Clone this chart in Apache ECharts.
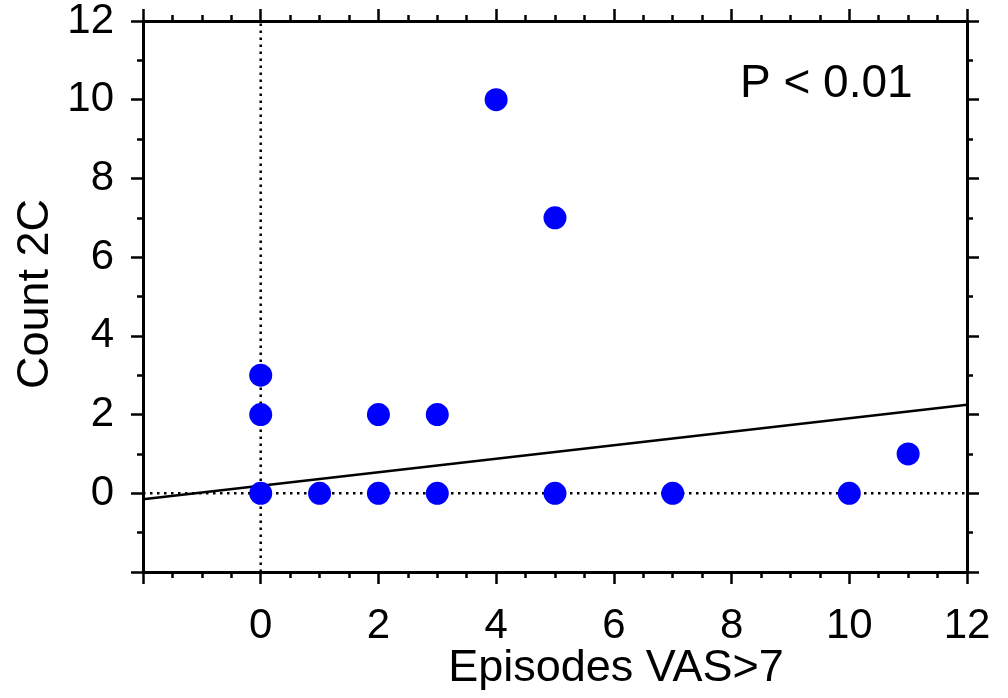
<!DOCTYPE html>
<html>
<head>
<meta charset="utf-8">
<script src="https://cdn.jsdelivr.net/npm/echarts@6/dist/echarts.min.js"></script>
<style>
html,body{margin:0;padding:0;background:#fff;}
#chart{width:1008px;height:698px;}
</style>
</head>
<body>
<div id="chart"></div>
<script>
// Data
const episodes = [0, 0, 0, 1, 2, 2, 3, 3, 4, 5, 5, 7, 10, 11];
const count2C  = [3, 2, 0, 0, 2, 0, 2, 0, 10, 7, 0, 0, 0, 1];
const fitX = [-2, 12];
const fitY = [-0.15, 2.25];
const xTickLabels = ['0', '2', '4', '6', '8', '10', '12'];
const yTickLabels = ['0', '2', '4', '6', '8', '10', '12'];
const xTitle = 'Episodes VAS>7';
const yTitle = 'Count 2C';
const pText = 'P < 0.01';

const FONT = '"Liberation Sans", Arial, sans-serif';
const chart = echarts.init(document.getElementById('chart'));

function axisCommon(showLabels, labels, minorSplit, margin) {
  return {
    type: 'value', min: -2, max: 12, interval: 2,
    axisLine: { show: true, onZero: false, lineStyle: { color: '#000', width: 3 } },
    axisTick: { show: true, inside: false, length: 12, lineStyle: { color: '#000', width: 2.5 } },
    minorTick: { show: true, splitNumber: minorSplit, length: 6, lineStyle: { color: '#000', width: 2.5 } },
    splitLine: { show: false },
    axisLabel: {
      show: showLabels, color: '#000', fontSize: 42, fontFamily: FONT, margin: margin,
      formatter: v => labels.includes(String(v)) ? String(v) : ''
    }
  };
}

const xs = episodes.map((x, i) => [x, count2C[i]]);

chart.setOption({
  animation: false,
  backgroundColor: '#fff',
  grid: { left: 143, right: 41, top: 18, bottom: 126 },
  xAxis: [
    Object.assign(axisCommon(true, xTickLabels, 4, 33), { position: 'bottom' }),
    Object.assign(axisCommon(false, xTickLabels, 4, 8), { position: 'top' })
  ],
  yAxis: [
    Object.assign(axisCommon(true, yTickLabels, 2, 29), { position: 'left' }),
    Object.assign(axisCommon(false, yTickLabels, 2, 8), { position: 'right' })
  ],
  series: [
    {
      type: 'line', data: [[0, -2], [0, 12]], symbol: 'none', silent: true,
      lineStyle: { color: '#000', width: 2.5, type: [2.5, 4.5] }, z: 1
    },
    {
      type: 'line', data: [[-2, 0], [12, 0]], symbol: 'none', silent: true,
      lineStyle: { color: '#000', width: 2.5, type: [2.5, 4.5] }, z: 1
    },
    {
      type: 'line', data: fitX.map((x, i) => [x, fitY[i]]), symbol: 'none', silent: true,
      lineStyle: { color: '#000', width: 2.5 }, z: 2
    },
    {
      type: 'scatter', data: xs, symbol: 'circle', symbolSize: 23,
      itemStyle: { color: '#0000ff', opacity: 1 }, z: 3
    }
  ],
  graphic: [
    { type: 'text', x: 616, y: 669, style: { text: xTitle, fill: '#000', font: '45px ' + FONT, align: 'center', verticalAlign: 'middle' } },
    { type: 'text', x: 36, y: 294, rotation: Math.PI / 2, style: { text: yTitle, fill: '#000', font: '45px ' + FONT, align: 'center', verticalAlign: 'middle' } },
    { type: 'text', x: 740, y: 84, style: { text: pText, fill: '#000', font: '46px ' + FONT, align: 'left', verticalAlign: 'middle' } }
  ]
});
</script>
</body>
</html>
